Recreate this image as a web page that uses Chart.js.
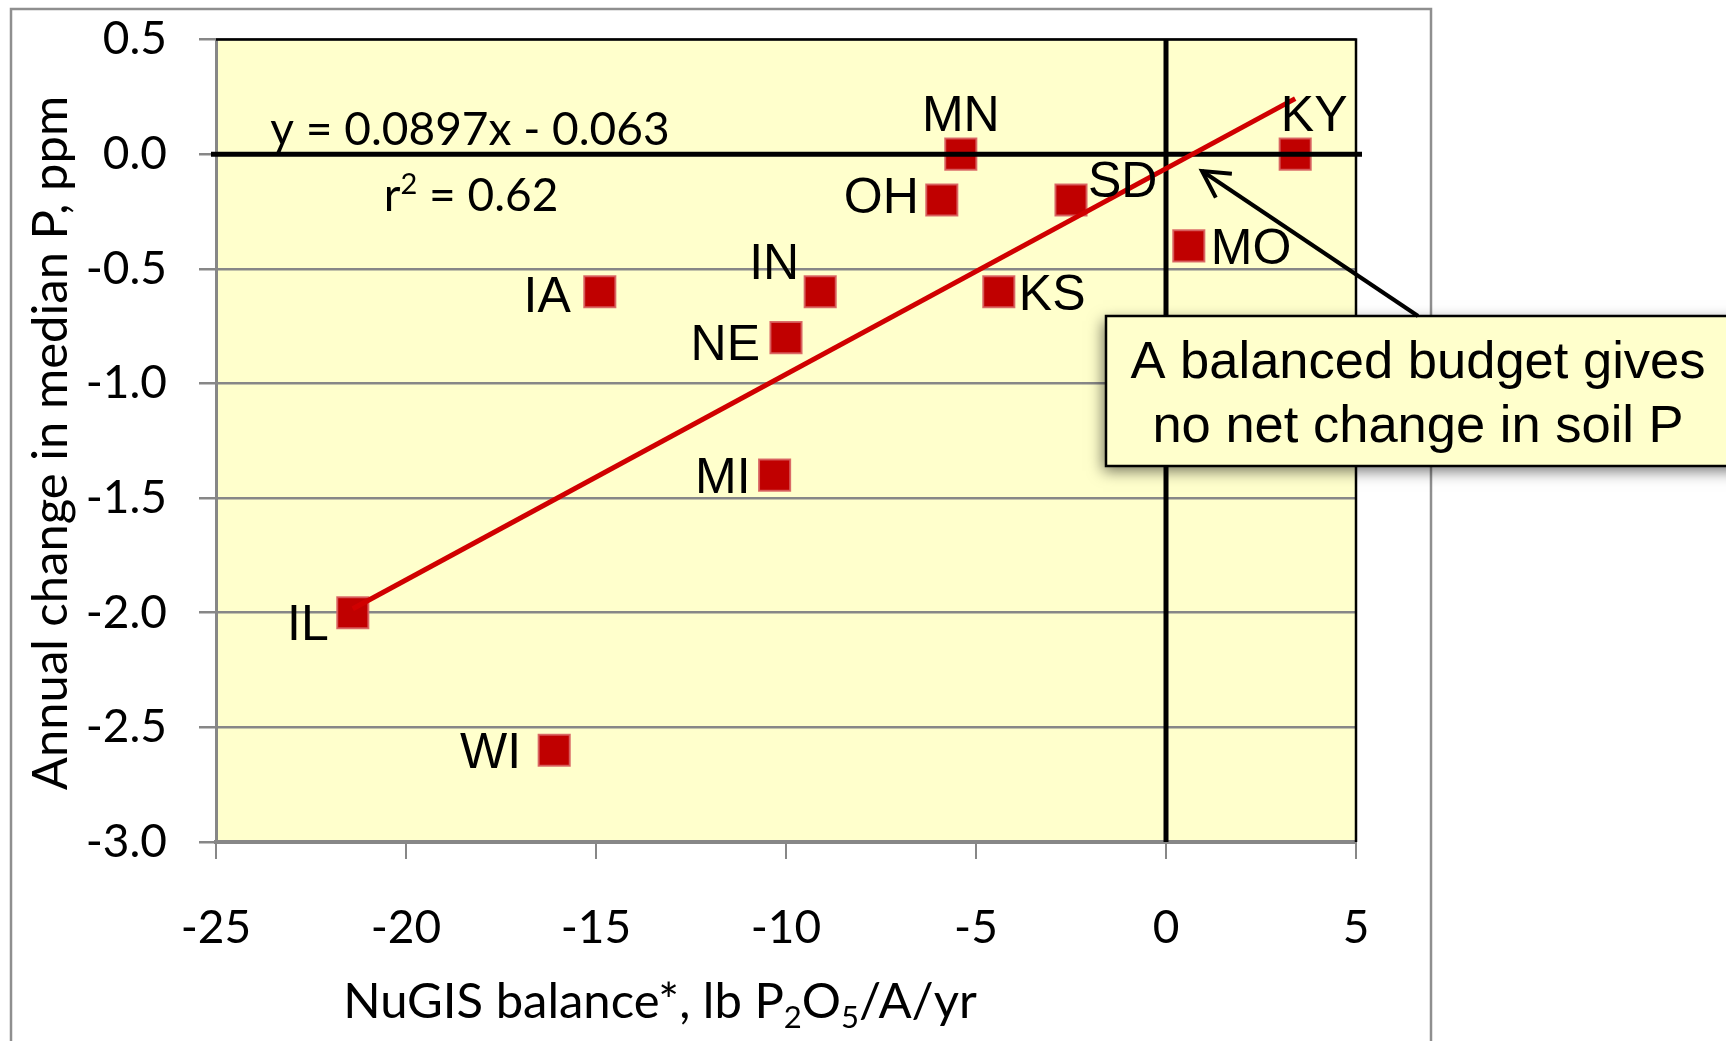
<!DOCTYPE html>
<html><head><meta charset="utf-8">
<script src="https://cdn.jsdelivr.net/npm/chart.js@4.4.1/dist/chart.umd.min.js"></script>
<style>html,body{margin:0;padding:0;background:#fff;overflow:hidden}canvas{display:block}</style>
</head><body>
<canvas id="c" width="1726" height="1041" style="width:1726px;height:1041px"></canvas>
<script>
// ---- data ----
const states   = ['IL','WI','IA','IN','NE','MI','MN','OH','SD','KS','MO','KY'];
const balance  = [-21.4,-16.1,-14.9,-9.1,-10.0,-10.3,-5.4,-5.9,-2.5,-4.4,0.6,3.4];
const pChange  = [-2.0,-2.6,-0.6,-0.6,-0.8,-1.4,0.0,-0.2,-0.2,-0.6,-0.4,0.0];
const xTicks   = [-25,-20,-15,-10,-5,0,5];
const yTicks   = [0.5,0.0,-0.5,-1.0,-1.5,-2.0,-2.5,-3.0];
const slope = 0.0897, intercept = -0.063, rSquared = '0.62';
const eqText = 'y = 0.0897x - 0.063';
const xTitleParts = [['NuGIS balance*, lb P',0],['2',1],['O',0],['5',1],['/A/yr',0]];
const yTitle = 'Annual change in median P, ppm';
const calloutLines = ['A balanced budget gives','no net change in soil P'];

// ---- styling / placement ----
const labelPlace = {
  IL:['right',-24,9], WI:['right',-33,0], IA:['right',-29,2], IN:['right',-21,-31],
  NE:['right',-26,4], MI:['right',-24,0], MN:['center',0,-41], OH:['right',-23,-5],
  SD:['left',17,-21], KS:['left',20,0], MO:['left',22,0], KY:['center',19,-41]
};
const CAL = 'Lato, "Open Sans", sans-serif';
const ARIAL = '"Liberation Sans", Arial, sans-serif';
const GRID = '#878787';

const deco = {
  id:'deco',
  beforeDraw(chart){
    const {ctx, chartArea:a} = chart;
    ctx.save();
    ctx.fillStyle='#fff'; ctx.fillRect(0,0,chart.width,chart.height);
    ctx.fillStyle='#FFFFCC'; ctx.fillRect(a.left,a.top,a.right-a.left,a.bottom-a.top);
    ctx.strokeStyle='#8f8f8f'; ctx.lineWidth=2.5;
    ctx.beginPath(); ctx.moveTo(11,chart.height); ctx.lineTo(11,9); ctx.lineTo(1431,9); ctx.lineTo(1431,chart.height); ctx.stroke();
    ctx.restore();
  },
  beforeDatasetDraw(chart,args){
    if(args.index!==1) return;
    const {ctx, chartArea:a, scales:{x,y}} = chart;
    const y0=y.getPixelForValue(0), x0=x.getPixelForValue(0);
    ctx.save(); ctx.strokeStyle='#000';
    ctx.lineWidth=2.5; ctx.beginPath(); ctx.moveTo(a.left,a.top); ctx.lineTo(a.right,a.top); ctx.lineTo(a.right,a.bottom); ctx.stroke();
    ctx.lineWidth=5; ctx.beginPath();
    ctx.moveTo(a.left-5,y0); ctx.lineTo(a.right+6,y0);
    ctx.moveTo(x0,a.top); ctx.lineTo(x0,a.bottom); ctx.stroke();
    ctx.restore();
  },
  afterDatasetsDraw(chart){
    const {ctx, scales:{x,y}} = chart;
    ctx.save();
    ctx.fillStyle='#000';
    // point labels
    ctx.font='50px '+ARIAL; ctx.textBaseline='alphabetic';
    states.forEach((s,i)=>{
      const p=labelPlace[s];
      const px=x.getPixelForValue(balance[i]), py=y.getPixelForValue(pChange[i]);
      ctx.textAlign=p[0];
      ctx.fillText(s, px+p[1], py+p[2]+18);
    });
    // equation
    ctx.font='46px '+CAL; ctx.textAlign='center';
    ctx.fillText(eqText, 470, 145);
    const big='46px '+CAL, small='29px '+CAL;
    ctx.font=big; const wr=ctx.measureText('r').width, wrest=ctx.measureText(' = '+rSquared).width;
    ctx.font=small; const w2=ctx.measureText('2').width;
    let sx=471-(wr+w2+wrest)/2; ctx.textAlign='left';
    ctx.font=big; ctx.fillText('r',sx,211); sx+=wr;
    ctx.font=small; ctx.fillText('2',sx,194); sx+=w2;
    ctx.font=big; ctx.fillText(' = '+rSquared,sx,211);
    // x title
    const tBig='49px '+CAL, tSmall='31px '+CAL;
    let tw=0;
    xTitleParts.forEach(([t,sub])=>{ctx.font=(sub?tSmall:tBig); tw+=ctx.measureText(t).width;});
    sx=660-tw/2;
    xTitleParts.forEach(([t,sub])=>{ctx.font=(sub?tSmall:tBig); ctx.fillText(t,sx,sub?1028:1018); sx+=ctx.measureText(t).width;});
    // y title
    ctx.save(); ctx.translate(67,443); ctx.rotate(-Math.PI/2);
    ctx.font=tBig; ctx.textAlign='center'; ctx.fillText(yTitle,0,0); ctx.restore();
    // callout box
    ctx.save();
    ctx.shadowColor='rgba(0,0,0,0.55)'; ctx.shadowBlur=14; ctx.shadowOffsetX=-3; ctx.shadowOffsetY=5;
    ctx.fillStyle='#FFFFCC'; ctx.fillRect(1106,316,640,150);
    ctx.restore();
    ctx.strokeStyle='#000'; ctx.lineWidth=2.5; ctx.strokeRect(1106,316,640,150);
    ctx.fillStyle='#000'; ctx.font='52.5px '+ARIAL; ctx.textAlign='center';
    ctx.fillText(calloutLines[0],1418,378);
    ctx.fillText(calloutLines[1],1418,442);
    // arrow
    const tx=1202, ty=171, fx=1418, fy=316;
    ctx.lineWidth=4; ctx.lineCap='butt';
    ctx.beginPath(); ctx.moveTo(fx,fy); ctx.lineTo(tx,ty); ctx.stroke();
    const ang=Math.atan2(fy-ty,fx-tx), L=30, sp=0.5;
    ctx.beginPath();
    ctx.moveTo(tx+L*Math.cos(ang+sp),ty+L*Math.sin(ang+sp)); ctx.lineTo(tx,ty);
    ctx.lineTo(tx+L*Math.cos(ang-sp),ty+L*Math.sin(ang-sp)); ctx.stroke();
    ctx.restore();
  }
};

function build(){
  const xs=[Math.min(...balance),Math.max(...balance)];
  new Chart(document.getElementById('c'),{
    type:'scatter',
    data:{datasets:[
      {label:'States', data:balance.map((b,i)=>({x:b,y:pChange[i]})), order:1,
       pointStyle:'rect', pointRadius:22, pointHoverRadius:22,
       backgroundColor:'#C00000', borderColor:'rgba(215,95,95,0.9)', borderWidth:2},
      {label:'Trend', type:'line', data:xs.map(v=>({x:v,y:slope*v+intercept})), order:0,
       borderColor:'#D00000', borderWidth:5, pointRadius:0, fill:false, tension:0}
    ]},
    options:{
      responsive:false, animation:false, devicePixelRatio:1,
      events:[],
      layout:{padding:{top:39.5,right:370,left:0,bottom:0}},
      plugins:{legend:{display:false},tooltip:{enabled:false}},
      scales:{
        x:{type:'linear', min:-25, max:5,
           afterBuildTicks:s=>{s.ticks=xTicks.map(v=>({value:v}));},
           afterFit:s=>{s.height=199; s.paddingLeft=0; s.paddingRight=0; s.paddingTop=0; s.paddingBottom=0;},
           grid:{drawOnChartArea:false, color:GRID, lineWidth:2, tickLength:17},
           border:{color:GRID, width:4},
           ticks:{font:{family:'Lato',size:46}, color:'#000', padding:42, maxRotation:0, autoSkip:false}},
        y:{type:'linear', min:-3, max:0.5,
           afterBuildTicks:s=>{s.ticks=yTicks.map(v=>({value:v}));},
           afterFit:s=>{s.width=216; s.paddingTop=0; s.paddingBottom=0; s.paddingLeft=0; s.paddingRight=0;},
           grid:{color:GRID, lineWidth:2.5, tickLength:17},
           border:{color:GRID, width:3},
           ticks:{font:{family:'Lato',size:46}, color:'#000', padding:32, autoSkip:false,
                  callback:v=>Number(v).toFixed(1)}}
      }
    },
    plugins:[deco]
  });
}
Promise.all([document.fonts.load('46px Lato'),document.fonts.load('50px "Liberation Sans"')]).then(build,build);
</script>
</body></html>
